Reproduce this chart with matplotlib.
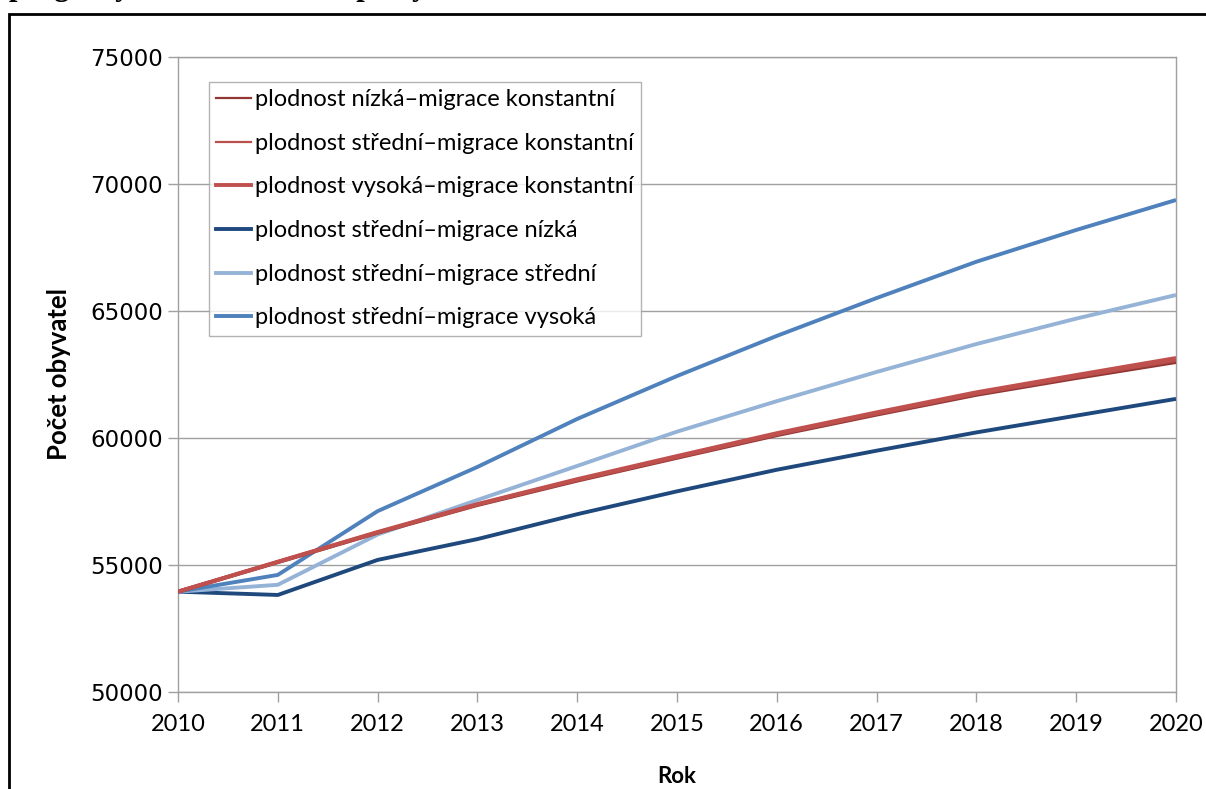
import matplotlib
matplotlib.use("Agg")
import matplotlib.pyplot as plt
from matplotlib.patches import Rectangle
from matplotlib.lines import Line2D

plt.rcParams['font.family'] = ['Lato', 'DejaVu Sans']

roky = [2010, 2011, 2012, 2013, 2014, 2015, 2016, 2017, 2018, 2019, 2020]

# odhad z grafu
nizka_konst = [53950, 55110, 56270, 57360, 58320, 59220, 60110, 60920, 61700, 62360, 62990]
stredni_konst = [53950, 55120, 56280, 57380, 58350, 59250, 60150, 60960, 61750, 62420, 63070]
vysoka_konst = [53950, 55130, 56300, 57400, 58380, 59290, 60190, 61010, 61800, 62480, 63150]
stredni_nizka = [53950, 53820, 55200, 56020, 57000, 57900, 58750, 59500, 60220, 60880, 61540]
stredni_stredni = [53950, 54220, 56200, 57560, 58900, 60250, 61450, 62600, 63700, 64700, 65630]
stredni_vysoka = [53950, 54610, 57120, 58860, 60750, 62440, 64020, 65510, 66940, 68190, 69370]

popisky = [
    "plodnost nízká\u2013migrace konstantní",
    "plodnost střední\u2013migrace konstantní",
    "plodnost vysoká\u2013migrace konstantní",
    "plodnost střední\u2013migrace nízká",
    "plodnost střední\u2013migrace střední",
    "plodnost střední\u2013migrace vysoká",
]
barvy = ["#943634", "#B9504C", "#C0504D", "#1F497D", "#95B3D7", "#4F81BD"]
tloustky = [1.6, 1.6, 2.8, 2.8, 2.8, 2.8]
rady = [nizka_konst, stredni_konst, vysoka_konst, stredni_nizka, stredni_stredni, stredni_vysoka]

fig = plt.figure(figsize=(12.06, 7.89), dpi=100)
ax = fig.add_axes([178 / 1206, 1 - 692 / 789, (1176 - 178) / 1206, (692 - 57) / 789])

# cervene kreslit az nakonec, jsou nahore
for i in [3, 4, 5, 0, 1, 2]:
    ax.plot(roky, rady[i], color=barvy[i], lw=2.8, solid_capstyle='butt', zorder=3)
handles = [Line2D([], [], color=barvy[i], lw=tloustky[i]) for i in range(6)]

ax.set_xlim(2010, 2020)
ax.set_ylim(50000, 75000)
ax.set_xticks(roky)
ax.set_yticks(range(50000, 75001, 5000))
ax.grid(axis='y', color='#A0A0A0', lw=1)
ax.set_axisbelow(True)
for s in ax.spines.values():
    s.set_color('#A0A0A0')
    s.set_linewidth(1)
ax.tick_params(axis='both', which='both', direction='out', length=7, width=1,
               color='#A0A0A0')
ax.tick_params(axis='x', pad=9, labelsize=17)
ax.tick_params(axis='y', pad=4, labelsize=16.5)
for t in ax.get_yticklabels():
    t.set_family('DejaVu Sans')

ax.set_xlabel("Rok", fontsize=16, fontweight='bold', labelpad=22)
ax.set_ylabel("Počet obyvatel", fontsize=18.5, fontweight='bold', labelpad=14)

leg = ax.legend(handles, popisky, loc='upper left', bbox_to_anchor=(0.031, 0.9606),
                fontsize=17, frameon=True, fancybox=False, handlelength=1.5,
                handletextpad=0.17, labelspacing=0.96, borderpad=0.3, borderaxespad=0)
leg.get_frame().set_edgecolor('#A0A0A0')
leg.get_frame().set_linewidth(1)

# vnejsi ramecek
fig.patches.append(Rectangle((9 / 1206, -0.05), 1.1, (789 - 14) / 789 + 0.05,
                             transform=fig.transFigure, fill=False,
                             edgecolor='black', lw=2))

# oriznuty nadpis nahore
fig.text(9 / 1206, 1 + 5 / 789, "prognózy obce 2010\u20132020, počty", family='Liberation Serif',
         fontweight='bold', fontsize=22, va='baseline', ha='left')

fig.savefig("out.png", dpi=100)
